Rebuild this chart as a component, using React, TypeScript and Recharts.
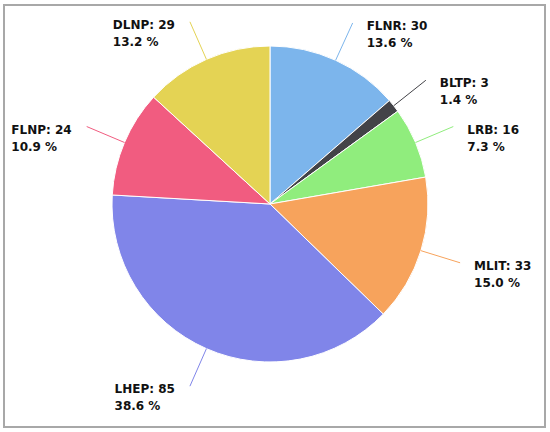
import React from "react";
import { PieChart, Pie, Cell } from "recharts";

const NAMES = ["FLNR", "BLTP", "LRB", "MLIT", "LHEP", "FLNP", "DLNP"];
const COUNTS = [30, 3, 16, 33, 85, 24, 29];
const COLORS = ["#7cb5ec", "#434348", "#90ed7d", "#f7a35c", "#8085e9", "#f15c80", "#e4d354"];

const data = NAMES.map((name, i) => ({ name, value: COUNTS[i] }));

const FONT = "bold 12px 'DejaVu Sans'";
const RADIAN = Math.PI / 180;

// canvas is enough to get the width of a label line for left side labels
let ctx: CanvasRenderingContext2D | null = null;
const textWidth = (s: string) => {
  if (!ctx) ctx = document.createElement("canvas").getContext("2d");
  if (!ctx) return s.length * 7;
  ctx.font = FONT;
  return ctx.measureText(s).width;
};

// connector runs straight out from the slice edge, label sits beyond it
const renderLabel = (props: any) => {
  const { cx, cy, midAngle, outerRadius, percent, name, value, index } = props;
  const cos = Math.cos(-midAngle * RADIAN);
  const sin = Math.sin(-midAngle * RADIAN);
  const sx = cx + outerRadius * cos;
  const sy = cy + outerRadius * sin;
  const ex = cx + (outerRadius + 41) * cos;
  const ey = cy + (outerRadius + 41) * sin;
  const line1 = `${name}: ${value}`;
  const line2 = `${(percent * 100).toFixed(1)} %`;
  const right = cos >= 0;
  const w = Math.max(textWidth(line1), textWidth(line2));
  const tx = right ? ex + 14 : ex - 15 - w;
  const ty = ey + 7;
  return (
    <g>
      <path
        d={`M${sx},${sy}L${ex},${ey}`}
        stroke={COLORS[index % COLORS.length]}
        strokeWidth={1}
        fill="none"
      />
      <text
        x={tx}
        y={ty}
        fill="#111"
        style={{ font: FONT }}
        textAnchor="start"
      >
        <tspan x={tx} y={ty}>{line1}</tspan>
        <tspan x={tx} y={ty + 17}>{line2}</tspan>
      </text>
    </g>
  );
};

export default function App() {
  return (
    <div
      style={{
        position: "absolute",
        left: 0,
        top: 0,
        width: 550,
        height: 432,
        background: "#fff",
      }}
    >
      <div
        style={{
          position: "absolute",
          left: 3,
          top: 4,
          width: 539,
          height: 420,
          border: "2px solid #a8a8a8",
        }}
      />
      <div style={{ position: "absolute", left: 0, top: 0 }}>
        <PieChart width={550} height={432} margin={{ top: 0, right: 0, bottom: 0, left: 0 }}>
          <Pie
            data={data}
            dataKey="value"
            nameKey="name"
            cx={270}
            cy={204}
            outerRadius={158}
            startAngle={90}
            endAngle={-270}
            stroke="#fff"
            strokeWidth={1}
            label={renderLabel}
            labelLine={false}
            isAnimationActive={false}
          >
            {data.map((d, i) => (
              <Cell key={d.name} fill={COLORS[i]} />
            ))}
          </Pie>
        </PieChart>
      </div>
    </div>
  );
}
